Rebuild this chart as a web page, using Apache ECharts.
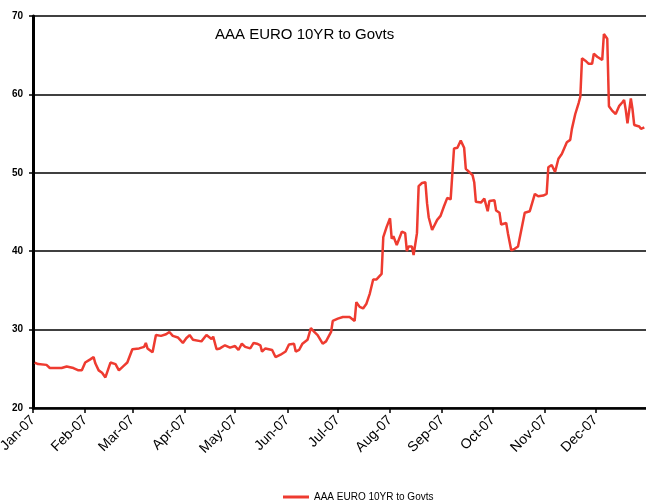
<!DOCTYPE html>
<html>
<head>
<meta charset="utf-8">
<script src="https://cdn.jsdelivr.net/npm/echarts@6.0.0/dist/echarts.min.js"></script>
<style>
  html, body { margin: 0; padding: 0; background: #fff; }
  #main { width: 646px; height: 501px; }
</style>
</head>
<body>
<div id="main"></div>
<script>
// spread values (bp), by date
var dates = [
  '2007-01-02', '2007-01-04', '2007-01-09', '2007-01-11', '2007-01-14', '2007-01-18', '2007-01-21', '2007-01-25', '2007-01-28', '2007-01-30',
  '2007-02-01', '2007-02-04', '2007-02-06', '2007-02-07', '2007-02-09', '2007-02-11', '2007-02-13', '2007-02-16', '2007-02-19', '2007-02-21', '2007-02-24', '2007-02-26',
  '2007-03-01', '2007-03-05', '2007-03-08', '2007-03-09', '2007-03-10', '2007-03-13', '2007-03-15', '2007-03-18', '2007-03-21', '2007-03-23', '2007-03-25', '2007-03-28', '2007-03-31',
  '2007-04-02', '2007-04-04', '2007-04-06', '2007-04-11', '2007-04-14', '2007-04-17', '2007-04-18', '2007-04-20', '2007-04-22', '2007-04-25', '2007-04-28',
  '2007-05-01', '2007-05-03', '2007-05-05', '2007-05-07', '2007-05-10', '2007-05-12', '2007-05-14', '2007-05-16', '2007-05-17', '2007-05-19', '2007-05-23', '2007-05-25', '2007-05-28', '2007-05-31',
  '2007-06-02', '2007-06-05', '2007-06-06', '2007-06-08', '2007-06-10', '2007-06-13', '2007-06-15', '2007-06-17', '2007-06-19', '2007-06-22', '2007-06-24', '2007-06-27', '2007-06-28',
  '2007-07-01', '2007-07-04', '2007-07-08', '2007-07-11', '2007-07-12', '2007-07-14', '2007-07-16', '2007-07-18', '2007-07-20', '2007-07-21', '2007-07-22', '2007-07-24', '2007-07-27', '2007-07-28', '2007-07-30',
  '2007-08-01', '2007-08-02', '2007-08-03', '2007-08-05', '2007-08-07', '2007-08-08', '2007-08-10', '2007-08-11', '2007-08-12', '2007-08-14', '2007-08-15', '2007-08-17', '2007-08-18', '2007-08-20', '2007-08-22', '2007-08-23', '2007-08-24', '2007-08-26', '2007-08-29', '2007-08-31',
  '2007-09-02', '2007-09-04', '2007-09-06', '2007-09-08', '2007-09-10', '2007-09-12', '2007-09-14', '2007-09-15', '2007-09-17', '2007-09-19', '2007-09-20', '2007-09-21', '2007-09-24', '2007-09-26', '2007-09-28', '2007-09-29',
  '2007-10-02', '2007-10-03', '2007-10-05', '2007-10-06', '2007-10-09', '2007-10-10', '2007-10-12', '2007-10-14', '2007-10-16', '2007-10-17', '2007-10-20', '2007-10-23', '2007-10-26', '2007-10-28', '2007-10-31',
  '2007-11-02', '2007-11-03', '2007-11-05', '2007-11-07', '2007-11-09', '2007-11-11', '2007-11-14', '2007-11-16', '2007-11-17', '2007-11-19', '2007-11-21', '2007-11-22', '2007-11-23', '2007-11-25', '2007-11-27', '2007-11-29', '2007-11-30',
  '2007-12-02', '2007-12-05', '2007-12-06', '2007-12-07', '2007-12-08', '2007-12-09', '2007-12-11', '2007-12-13', '2007-12-14', '2007-12-15', '2007-12-17', '2007-12-18', '2007-12-19', '2007-12-20', '2007-12-21', '2007-12-22', '2007-12-23', '2007-12-24', '2007-12-27', '2007-12-28', '2007-12-30'
];

var spread = [
  25.8, 25.6, 25.5, 25.1, 25.1, 25.1, 25.3, 25.1, 24.8, 24.8,
  25.8, 26.2, 26.5, 25.7, 24.8, 24.5, 23.9, 25.8, 25.6, 24.8, 25.4, 25.8,
  27.5, 27.6, 27.8, 28.3, 27.6, 27.1, 29.3, 29.2, 29.4, 29.7, 29.2, 29.0, 28.3,
  28.9, 29.3, 28.7, 28.5, 29.3, 28.8, 29.1, 27.5, 27.6, 28.0, 27.7,
  27.9, 27.4, 28.2, 27.8, 27.6, 28.3, 28.2, 28.0, 27.2, 27.6, 27.4, 26.5, 26.8, 27.2,
  28.1, 28.2, 27.2, 27.4, 28.2, 28.7, 30.2, 29.7, 29.3, 28.2, 28.5, 29.7, 31.1,
  31.4, 31.6, 31.6, 31.1, 33.5, 32.9, 32.7, 33.3, 34.6, 34.7, 36.4, 36.4, 37.1, 41.8, 43.1,
  44.2, 41.6, 41.9, 40.8, 41.9, 42.5, 42.3, 40.0, 40.6, 40.6, 39.5, 42.3, 48.3, 48.7, 48.8, 46.1, 44.3, 42.7, 44.0, 44.5,
  45.7, 46.8, 46.6, 53.1, 53.2, 54.1, 53.2, 50.5, 50.1, 49.7, 48.8, 46.3, 46.2, 46.7, 45.1, 46.4,
  46.5, 45.2, 44.9, 43.4, 43.6, 42.3, 40.1, 40.3, 40.6, 40.5, 44.9, 45.1, 47.3, 47.0, 47.1,
  47.3, 50.7, 51.0, 50.1, 51.8, 52.4, 53.9, 54.2, 55.6, 57.5, 58.9, 59.7, 64.6, 64.3, 63.9, 63.9, 65.2,
  64.8, 64.4, 67.7, 67.6, 67.1, 58.5, 57.9, 57.5, 57.5, 58.5, 59.0, 59.3, 58.0, 56.3, 56.3, 59.5, 58.1, 56.1, 55.9, 55.6, 55.8
];

var monthNames = ['Jan', 'Feb', 'Mar', 'Apr', 'May', 'Jun', 'Jul', 'Aug', 'Sep', 'Oct', 'Nov', 'Dec'];

var myChart = echarts.init(document.getElementById('main'));

var seriesData = dates.map(function (d, i) {
  return [d, spread[i]];
});

var option = {
  animation: false,
  textStyle: { fontFamily: 'Liberation Sans, Arial, sans-serif' },
  title: {
    text: 'AAA EURO 10YR to Govts',
    left: 210,
    top: 22,
    textStyle: { fontSize: 15, fontWeight: 'normal', color: '#000' }
  },
  legend: {
    left: 278,
    top: 487,
    itemWidth: 26,
    itemHeight: 3,
    icon: 'rect',
    itemGap: 5,
    textStyle: { fontSize: 10, color: '#000' },
    data: ['AAA EURO 10YR to Govts']
  },
  grid: {
    left: 33,
    right: 0,
    top: 16,
    bottom: 93,
    outerBoundsMode: 'none'
  },
  xAxis: {
    type: 'time',
    min: '2007-01-01',
    max: '2007-12-31',
    splitNumber: 12,
    axisLine: { lineStyle: { color: '#000', width: 2.5 } },
    axisTick: { show: true, length: 5, lineStyle: { color: '#000', width: 1.5 } },
    splitLine: { show: false },
    axisLabel: {
      rotate: 45,
      fontSize: 14,
      color: '#000',
      margin: 10,
      showMaxLabel: false,
      formatter: function (value) {
        var d = new Date(value);
        return monthNames[d.getMonth()] + '-07';
      }
    }
  },
  yAxis: {
    type: 'value',
    min: 20,
    max: 70,
    interval: 10,
    axisLine: { show: true, lineStyle: { color: '#000', width: 3 } },
    axisTick: { show: true, length: 4, lineStyle: { color: '#000', width: 1.5 } },
    splitLine: { show: true, lineStyle: { color: '#000', width: 1.5 } },
    axisLabel: { fontSize: 10, fontWeight: 'bold', color: '#000', margin: 10 }
  },
  series: [
    {
      name: 'AAA EURO 10YR to Govts',
      type: 'line',
      data: seriesData,
      showSymbol: false,
      symbol: 'none',
      color: '#ee3b30',
      lineStyle: { width: 2.5, color: '#ee3b30' }
    }
  ]
};

myChart.setOption(option);
</script>
</body>
</html>
